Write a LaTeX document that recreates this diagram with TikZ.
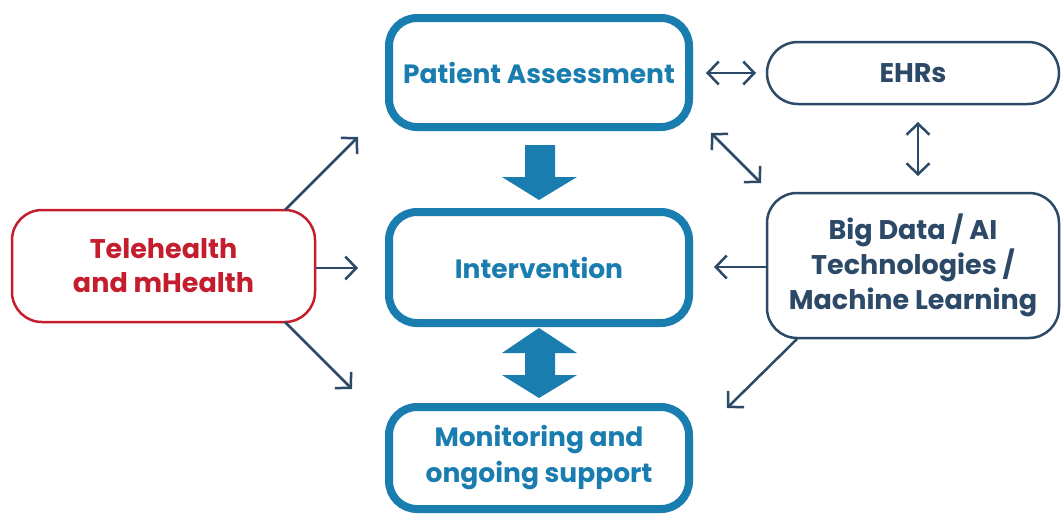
\documentclass[tikz,border=0pt]{standalone}
\usepackage{fontspec}
\setmainfont{Poppins}
\usetikzlibrary{arrows.meta}
\definecolor{cblue}{HTML}{1A7DAF}
\definecolor{cnavy}{HTML}{2C4A68}
\definecolor{cred}{HTML}{C41E2E}
\begin{document}
\begin{tikzpicture}[x=1pt,y=-1pt,
  bluebox/.style={draw=cblue,line width=8pt,rounded corners=28pt,fill=white,
    text=cblue,font=\fontsize{26.5}{36}\selectfont\bfseries,align=center,
    inner sep=0pt,minimum width=300pt},
  navybox/.style={draw=cnavy,line width=2.5pt,rounded corners=30pt,fill=white,
    text=cnavy,font=\fontsize{27}{35}\selectfont\bfseries,align=center,inner sep=0pt},
  redbox/.style={draw=cred,line width=2.5pt,rounded corners=30pt,fill=white,
    text=cred,font=\fontsize{27}{34}\selectfont\bfseries,align=center,inner sep=0pt},
  tip/.tip={Straight Barb[length=11pt,width=23pt,line width=2.5pt]},
  thin/.style={draw=cnavy,line width=2.5pt,-tip},
  thinboth/.style={draw=cnavy,line width=2.5pt,tip-tip},
  block/.style={fill=cblue,draw=none}]
\useasboundingbox (0,0) rectangle (1061,514);
\fill[white] (0,0) rectangle (1061,514);

\node[bluebox,minimum height=109pt] (pa) at (539,72.5) {Patient Assessment};
\node[bluebox,minimum height=111pt] (iv) at (539,267.5) {Intervention};
\node[bluebox,minimum height=102pt] (mo) at (539,458) {Monitoring and\\ongoing support};

\node[navybox,minimum width=292pt,minimum height=62pt,rounded corners=31pt] (ehr) at (913,73) {EHRs};
\node[navybox,minimum width=292pt,minimum height=145pt] (bd) at (913,265.5) {Big Data / AI\\Technologies /\\Machine Learning};
\node[redbox,minimum width=303pt,minimum height=112pt] (th) at (163.5,266) {Telehealth\\and mHealth};

% block arrows
\fill[block] (525,145) -- (555,145) -- (555,177) -- (577,177) -- (539,200) -- (502,177) -- (525,177) -- cycle;
\fill[block] (539,328) -- (577,353) -- (555,353) -- (555,375) -- (577,375) -- (539,398) -- (502,375) -- (525,375) -- (525,353) -- (502,353) -- cycle;

% thin arrows
\coordinate (a1) at (706,73);
\coordinate (a2) at (756,73);
\draw[thinboth] (a1) -- (a2);
\coordinate (b1) at (711,133);
\coordinate (b2) at (761,183);
\draw[thinboth] (b1) -- (b2);
\coordinate (c1) at (918,122);
\coordinate (c2) at (918,176);
\draw[thinboth] (c1) -- (c2);
\coordinate (d2) at (714,267);
\draw[thin] (bd.west |- d2) -- (d2);
\coordinate (e1) at (797,339);
\coordinate (e2) at (727,408);
\draw[thin] (e1) -- (e2);
\coordinate (f1) at (285,210);
\coordinate (f2) at (358,137);
\draw[thin] (f1) -- (f2);
\coordinate (g2) at (358,268);
\draw[thin] (th.east |- g2) -- (g2);
\coordinate (h1) at (285,322);
\coordinate (h2) at (352,389);
\draw[thin] (h1) -- (h2);
\end{tikzpicture}
\end{document}
